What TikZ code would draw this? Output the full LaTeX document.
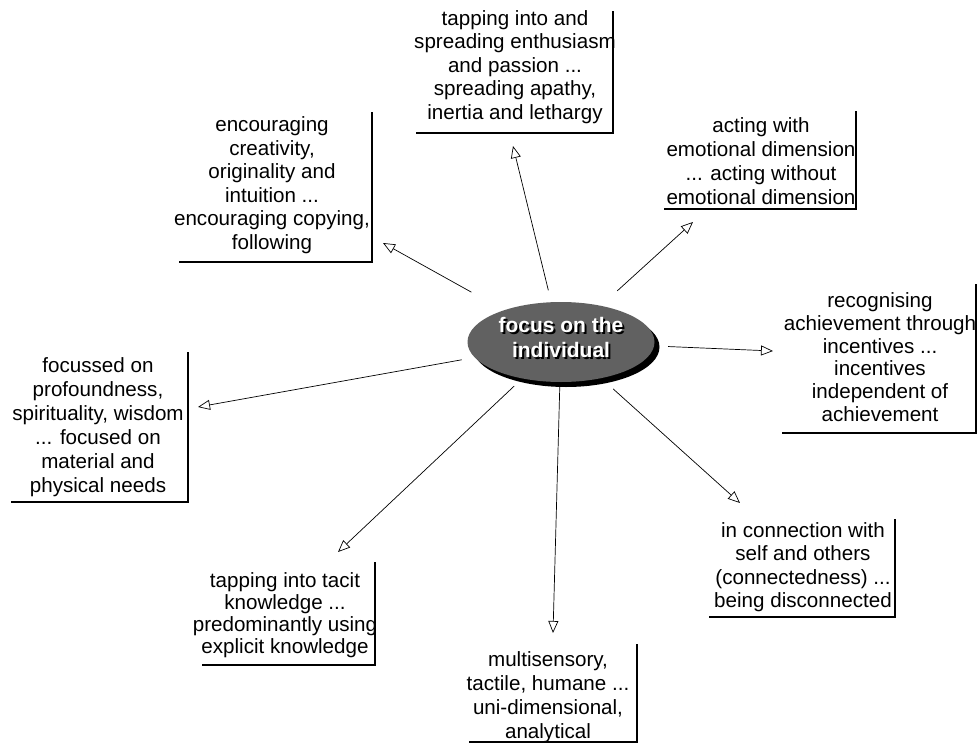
\documentclass[tikz,border=0pt]{standalone}
\usepackage{fontspec}
\setmainfont{Liberation Sans}
\usetikzlibrary{arrows.meta,shapes.geometric}
\begin{document}
\begin{tikzpicture}[x=1pt,y=-1pt,
  txt/.style={font=\fontsize{20.6}{#1}\selectfont, align=center, inner sep=0pt},
  txt/.default=23.5,
  etxt/.style={font=\fontsize{21}{25}\selectfont\bfseries, align=center, inner sep=0pt},
  edge/.style={line width=2.6pt, line cap=rect},
  arr/.style={line width=0.7pt, -{Triangle[open,length=12pt,width=10pt]}},
  ellbase/.style={ellipse, minimum width=187pt, minimum height=80pt, inner sep=0pt},
]
\useasboundingbox (0,0) rectangle (978,744);

% central ellipse
\node[ellbase, fill=black] (ellsh) at (566,347) {};
\node[ellbase, fill=black!62] (ell) at (561,342) {};
\node[etxt, text=black] (lblsh) at (563,339) {focus on the\\individual};
\node[etxt, text=white] (lbl) at (561,337) {focus on the\\individual};

% text boxes
\node[txt] (t1) at (515,67) {tapping into and\\spreading enthusiasm\\and passion ...\\spreading apathy,\\inertia and lethargy};
\node[txt=24] (t2) at (761,161) {acting with\\emotional dimension\\... acting without\\emotional dimension};
\node[txt] (t3) at (272,185) {encouraging\\creativity,\\originality and\\intuition ...\\encouraging copying,\\following};
\node[txt=22.7] (t4) at (880,357) {recognising\\achievement through\\incentives ...\\incentives\\independent of\\achievement};
\node[txt=24] (t5) at (98,427) {focussed on\\profoundness,\\spirituality, wisdom\\... focused on\\material and\\physical needs};
\node[txt] (t6) at (803,567) {in connection with\\self and others\\(connectedness) ...\\being disconnected};
\node[txt=22] (t7) at (285,615) {tapping into tacit\\knowledge ...\\predominantly using\\explicit knowledge};
\node[txt=24] (t8) at (548,697) {multisensory,\\tactile, humane ...\\uni-dimensional,\\analytical};

% box edges (right and bottom)
\coordinate (b1ne) at (613,12);  \coordinate (b1sw) at (417,133);
\coordinate (b2ne) at (856,112); \coordinate (b2sw) at (665,209);
\coordinate (b3ne) at (372,113); \coordinate (b3sw) at (180,262);
\coordinate (b4ne) at (976,285); \coordinate (b4sw) at (783,433);
\coordinate (b5ne) at (188,353); \coordinate (b5sw) at (12,502);
\coordinate (b6ne) at (895,520); \coordinate (b6sw) at (710,617);
\coordinate (b7ne) at (375,563); \coordinate (b7sw) at (203,665);
\coordinate (b8ne) at (637,645); \coordinate (b8sw) at (470,742);
\foreach \i in {1,...,8} {\draw[edge] (b\i ne) |- (b\i sw);}

% arrow tips
\coordinate (a1) at (513,146);
\coordinate (a2) at (693,222);
\coordinate (a3) at (383,243);
\coordinate (a4) at (773,351);
\coordinate (a5) at (198,407);
\coordinate (a6) at (740,503);
\coordinate (a7) at (338,552);
\coordinate (a8) at (553,633);

\draw[arr, shorten <=12pt] (ell) -- (a1);
\draw[arr, shorten <=22pt] (ell) -- (a2);
\draw[arr, shorten <=37pt] (ell) -- (a3);
\draw[arr, shorten <=14pt] (ell) -- (a4);
\draw[arr, shorten <=13pt] (ell) -- (a5);
\draw[arr, shorten <=16pt] (ell) -- (a6);
\draw[arr, shorten <=11pt] (ell) -- (a7);
\draw[arr, shorten <=5pt] (ell) -- (a8);
\end{tikzpicture}
\end{document}
